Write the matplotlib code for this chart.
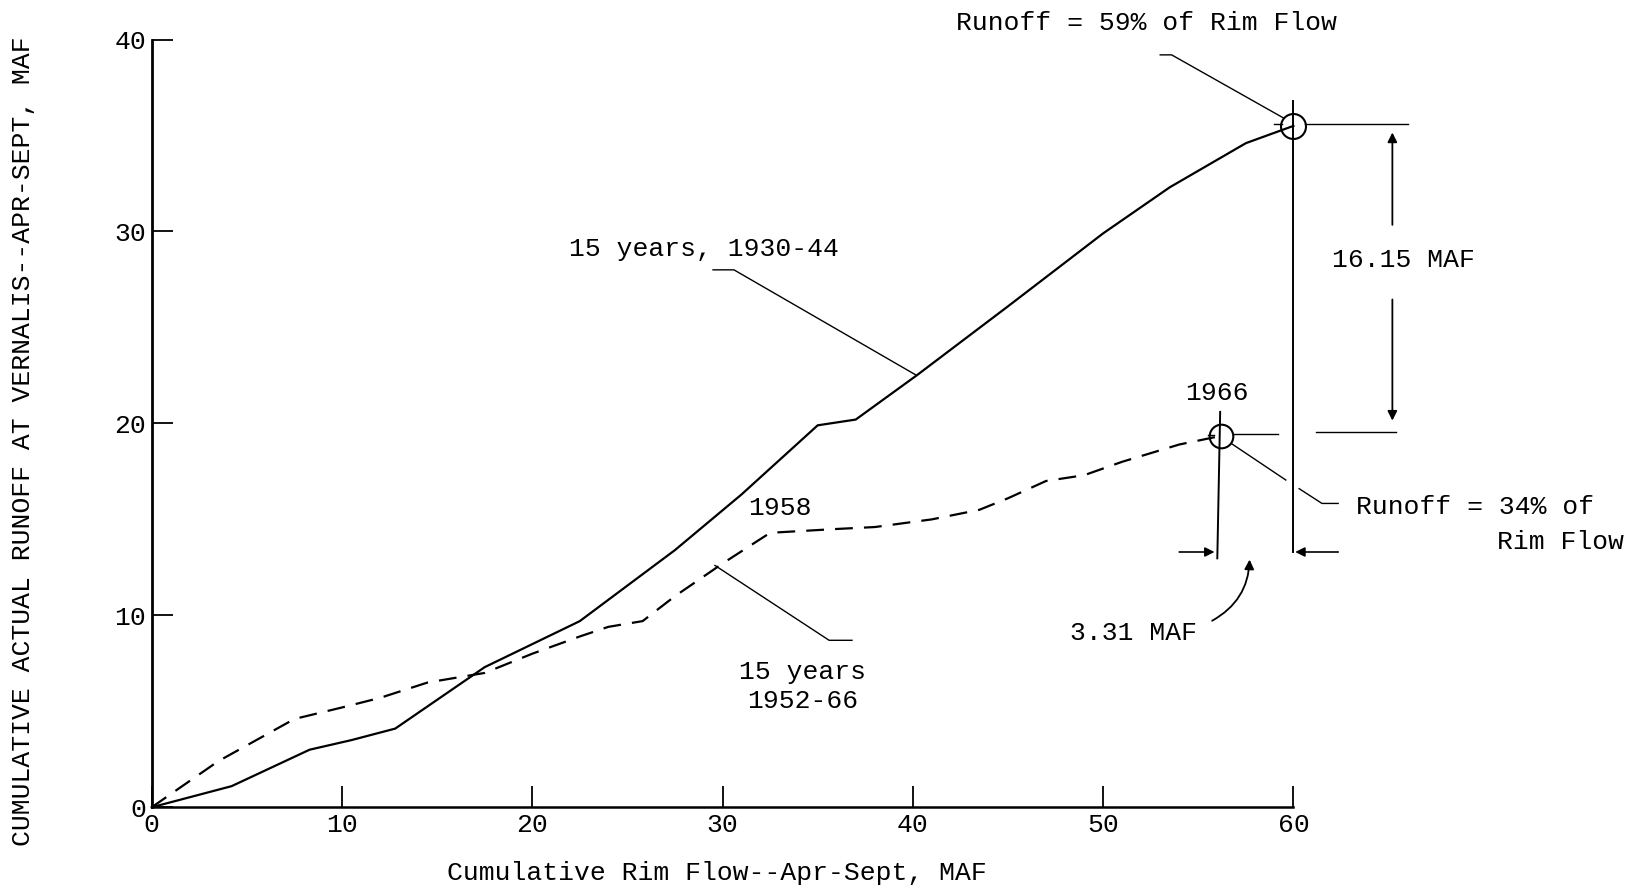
import matplotlib
matplotlib.use("Agg")
import matplotlib.pyplot as plt

# cumulative rim flow (x) vs cumulative runoff at Vernalis (y), MAF
rim_1930_44 = [0, 4.2, 8.3, 10.5, 12.8, 17.5, 22.5, 27.5, 31.0, 35.0, 37.0, 40.2, 45.0, 50.0, 53.5, 57.5, 60.0]
run_1930_44 = [0, 1.1, 3.0, 3.5, 4.1, 7.3, 9.7, 13.4, 16.3, 19.9, 20.2, 22.5, 26.1, 29.9, 32.3, 34.6, 35.5]

rim_1952_66 = [0, 3.5, 7.5, 10.0, 12.0, 14.5, 17.5, 20.0, 22.5, 24.0, 25.8, 27.5, 30.0, 32.5,
               36.0, 38.0, 41.0, 43.5, 45.0, 47.0, 49.0, 51.0, 54.0, 56.2]
run_1952_66 = [0, 2.4, 4.6, 5.2, 5.7, 6.5, 7.0, 8.0, 8.9, 9.4, 9.7, 11.0, 12.7, 14.3,
               14.5, 14.6, 15.0, 15.5, 16.1, 17.0, 17.3, 18.0, 18.9, 19.35]

xticks = [0, 10, 20, 30, 40, 50, 60]
yticks = [0, 10, 20, 30, 40]

FONT = "Liberation Mono"
FS = 19
plt.rcParams["font.family"] = FONT

fig = plt.figure(figsize=(16.29, 8.88), dpi=100)
ax = fig.add_axes([0.0931, 0.0909, 0.7009, 0.8646])

ax.plot(rim_1930_44, run_1930_44, color="black", lw=1.6, clip_on=False)
ax.plot(rim_1952_66, run_1952_66, color="black", lw=1.6, dashes=(8, 5), clip_on=False)

ax.set_xlim(0, 60)
ax.set_ylim(0, 40)
ax.set_xticks(xticks)
ax.set_yticks(yticks)
ax.tick_params(direction="in", length=15, width=1.3, labelsize=FS, pad=4)
for s in ["top", "right"]:
    ax.spines[s].set_visible(False)
ax.spines["left"].set_linewidth(2.0)
ax.spines["bottom"].set_linewidth(1.8)

fig.text(0.014, 0.503, "CUMULATIVE ACTUAL RUNOFF AT VERNALIS--APR-SEPT, MAF",
         rotation=90, ha="center", va="center", fontsize=FS)
fig.text(0.440, 0.017, "Cumulative Rim Flow--Apr-Sept, MAF", ha="center", va="center", fontsize=FS)

k = dict(color="black", lw=1.0, clip_on=False)
end1 = (rim_1930_44[-1], run_1930_44[-1])
end2 = (rim_1952_66[-1], run_1952_66[-1])

# end-point circles with cross lines
ax.plot(*end1, "o", ms=18, mfc="none", mec="black", mew=1.5, clip_on=False)
ax.plot(*end2, "o", ms=17, mfc="none", mec="black", mew=1.5, clip_on=False)
ax.plot([end1[0], end1[0]], [36.8, 13.3], color="black", lw=1.4, clip_on=False)
ax.plot([59.0, 59.4], [35.6, 35.6], **k)
ax.plot([60.6, 66.0], [35.6, 35.6], **k)
ax.plot([end2[0] - 0.05, end2[0] - 0.2], [20.6, 12.97], color="black", lw=1.4, clip_on=False)
ax.plot([55.5, 55.8], [19.4, 19.4], **k)
ax.plot([56.8, 59.2], [19.43, 19.43], **k)
ax.plot([61.2, 65.4], [19.55, 19.55], **k)

# labels and leaders
ax.text(42.25, 40.85, "Runoff = 59% of Rim Flow", fontsize=FS, va="center", ha="left")
ax.plot([53.0, 53.6, 59.5], [39.2, 39.2, 35.9], **k)

ax.text(29.0, 29.1, "15 years, 1930-44", fontsize=FS, va="center", ha="center")
ax.plot([29.5, 30.6, 40.2], [28.0, 28.0, 22.5], **k)

ax.text(33.0, 15.6, "1958", fontsize=FS, va="center", ha="center")
ax.text(34.2, 6.3, "15 years\n1952-66", fontsize=FS, va="center", ha="center", linespacing=1.3)
ax.plot([29.6, 35.6, 36.8], [12.6, 8.7, 8.7], **k)

ax.text(56.0, 21.6, "1966", fontsize=FS, va="center", ha="center")
ax.plot([56.74, 59.6], [18.95, 17.05], **k)
ax.plot([60.3, 61.5, 62.35], [16.6, 15.83, 15.83], **k)
ax.text(63.3, 15.65, "Runoff = 34% of", fontsize=FS, va="center", ha="left")
ax.text(70.7, 13.83, "Rim Flow", fontsize=FS, va="center", ha="left")

# 16.15 MAF vertical dimension
ax.text(65.8, 28.5, "16.15 MAF", fontsize=FS, va="center", ha="center")
ax.annotate("", xy=(65.2, 35.3), xytext=(65.2, 30.2), annotation_clip=False,
            arrowprops=dict(arrowstyle="-|>", color="black", lw=1.3, mutation_scale=14))
ax.annotate("", xy=(65.2, 20.0), xytext=(65.2, 26.6), annotation_clip=False,
            arrowprops=dict(arrowstyle="-|>", color="black", lw=1.3, mutation_scale=14))

# 3.31 MAF horizontal dimension
ax.annotate("", xy=(56.0, 13.3), xytext=(53.85, 13.3), annotation_clip=False,
            arrowprops=dict(arrowstyle="-|>", color="black", lw=1.2, mutation_scale=14))
ax.annotate("", xy=(59.95, 13.3), xytext=(62.5, 13.3), annotation_clip=False,
            arrowprops=dict(arrowstyle="-|>", color="black", lw=1.2, mutation_scale=14))
ax.text(51.6, 9.06, "3.31 MAF", fontsize=FS, va="center", ha="center")
ax.annotate("", xy=(57.7, 13.05), xytext=(55.6, 9.65), annotation_clip=False,
            arrowprops=dict(arrowstyle="-|>", color="black", lw=1.3, mutation_scale=14,
                            connectionstyle="arc3,rad=0.3"))

fig.savefig("out.png", dpi=100)
